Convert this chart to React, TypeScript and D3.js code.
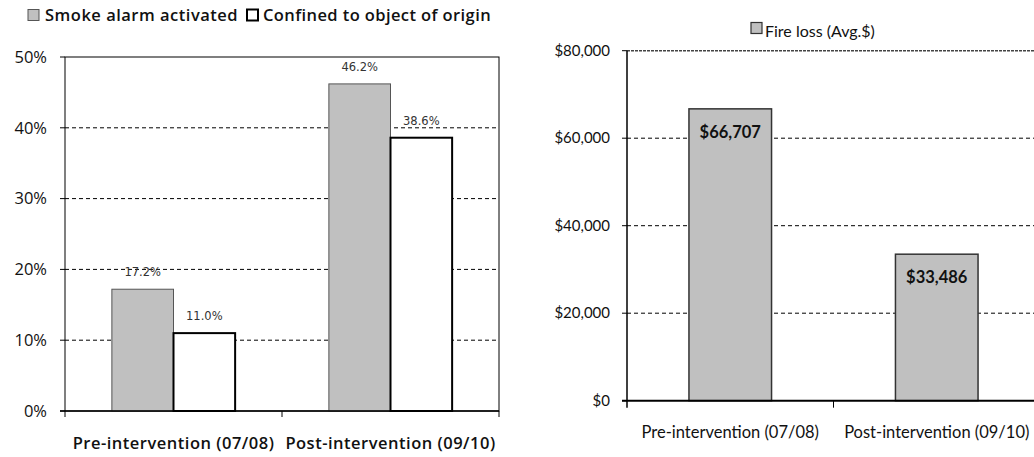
import { useEffect, useRef } from "react";
import * as d3 from "d3";

const periods = ["Pre-intervention (07/08)", "Post-intervention (09/10)"];
const leftSeries = ["Smoke alarm activated", "Confined to object of origin"];
const smokeAlarm = [0.172, 0.462];
const confined = [0.11, 0.386];
const leftTicks = [0, 0.1, 0.2, 0.3, 0.4, 0.5];

const lossSeries = "Fire loss (Avg.$)";
const fireLoss = [66707, 33486];
const rightTicks = [0, 20000, 40000, 60000, 80000];

const wideFont = "'Open Sans', 'DejaVu Sans', sans-serif";
const narrowFont = "Lato, 'Liberation Sans', sans-serif";
const labelFont = "'DejaVu Sans', Verdana, sans-serif";

export default function App() {
  const ref = useRef<SVGSVGElement>(null);

  useEffect(() => {
    const svg = d3.select(ref.current);
    svg.selectAll("*").remove();

    // ---------- left chart ----------
    const L = { left: 65, right: 499, top: 57, bottom: 411 };
    const yL = d3.scaleLinear().domain([0, 0.5]).range([L.bottom, L.top]);
    const xL0 = d3.scaleBand().domain(periods).range([L.left, L.right]).padding(0);
    const bw = xL0.bandwidth();
    const xL1 = d3.scaleBand().domain(leftSeries).range([bw * 0.216, bw * 0.784]).padding(0);

    const left = svg.append("g");

    left.selectAll("line.grid")
      .data(leftTicks.filter(t => t > 0 && t < 0.5))
      .join("line")
      .attr("x1", L.left).attr("x2", L.right)
      .attr("y1", d => yL(d)).attr("y2", d => yL(d))
      .attr("stroke", "#000").attr("stroke-width", 1)
      .attr("stroke-dasharray", "4,3");

    left.append("rect")
      .attr("x", L.left).attr("y", L.top)
      .attr("width", L.right - L.left).attr("height", L.bottom - L.top)
      .attr("fill", "none").attr("stroke", "#000").attr("stroke-width", 1);

    const rows = periods.map((p, i) => ({ p, values: [smokeAlarm[i], confined[i]] }));

    const groups = left.selectAll("g.grp").data(rows).join("g")
      .attr("transform", d => `translate(${xL0(d.p)},0)`);

    groups.selectAll("rect")
      .data(d => d.values.map((v, j) => ({ s: leftSeries[j], v })))
      .join("rect")
      .attr("x", d => xL1(d.s)!)
      .attr("y", d => yL(d.v))
      .attr("width", xL1.bandwidth())
      .attr("height", d => yL(0) - yL(d.v))
      .attr("fill", d => (d.s === leftSeries[0] ? "#c0c0c0" : "#fff"))
      .attr("stroke", d => (d.s === leftSeries[0] ? "#555" : "#000"))
      .attr("stroke-width", d => (d.s === leftSeries[0] ? 1 : 2));

    groups.selectAll("text")
      .data(d => d.values.map((v, j) => ({ s: leftSeries[j], v })))
      .join("text")
      .attr("x", d => xL1(d.s)! + xL1.bandwidth() / 2)
      .attr("y", d => yL(d.v) - 17)
      .attr("dy", "0.35em")
      .attr("text-anchor", "middle")
      .attr("font-family", labelFont)
      .attr("font-size", 11.5)
      .attr("fill", "#333")
      .text(d => `${(d.v * 100).toFixed(1)}%`);

    left.append("line")
      .attr("x1", L.left - 5).attr("x2", L.right)
      .attr("y1", yL(0)).attr("y2", yL(0))
      .attr("stroke", "#000").attr("stroke-width", 1.5);

    left.selectAll("line.ytick").data(leftTicks).join("line")
      .attr("x1", L.left - 5).attr("x2", L.left)
      .attr("y1", d => yL(d)).attr("y2", d => yL(d))
      .attr("stroke", "#000");

    left.selectAll("text.ylab").data(leftTicks).join("text")
      .attr("x", L.left - 18)
      .attr("y", d => yL(d))
      .attr("dy", "0.35em")
      .attr("text-anchor", "end")
      .attr("font-family", wideFont)
      .attr("font-size", 16.5)
      .attr("fill", "#111")
      .text(d => `${Math.round(d * 100)}%`);

    const xEdges = [...periods.map(p => xL0(p)!), L.right];
    left.selectAll("line.xtick").data(xEdges).join("line")
      .attr("x1", d => d).attr("x2", d => d)
      .attr("y1", L.bottom).attr("y2", L.bottom + 6)
      .attr("stroke", "#000");

    left.selectAll("text.xlab").data(periods).join("text")
      .attr("x", d => xL0(d)! + bw / 2)
      .attr("y", 443)
      .attr("dy", "0.35em")
      .attr("text-anchor", "middle")
      .attr("font-family", wideFont)
      .attr("font-weight", 600)
      .attr("font-size", 16.5)
      .attr("letter-spacing", 0.5)
      .attr("fill", "#111")
      .text(d => d);

    // legend (left)
    const lg = left.append("g").attr("transform", "translate(28,15)");
    lg.append("rect").attr("x", 0).attr("y", -5.5).attr("width", 11).attr("height", 11)
      .attr("fill", "#c0c0c0").attr("stroke", "#555");
    lg.append("text").attr("x", 17).attr("y", 0).attr("dy", "0.35em")
      .attr("font-family", wideFont).attr("font-weight", 600).attr("font-size", 16.5)
      .attr("letter-spacing", 0.5)
      .attr("fill", "#111").text(leftSeries[0]);
    lg.append("rect").attr("x", 219).attr("y", -5.5).attr("width", 11).attr("height", 11)
      .attr("fill", "#fff").attr("stroke", "#000").attr("stroke-width", 2);
    lg.append("text").attr("x", 235).attr("y", 0).attr("dy", "0.35em")
      .attr("font-family", wideFont).attr("font-weight", 600).attr("font-size", 16.5)
      .attr("letter-spacing", 0.4)
      .attr("fill", "#111").text(leftSeries[1]);

    // ---------- right chart ----------
    const R = { left: 627, right: 1040, top: 50.7, bottom: 400.7 };
    const yR = d3.scaleLinear().domain([0, 80000]).range([R.bottom, R.top]);
    const xR = d3.scaleBand().domain(periods).range([R.left, R.right]).padding(0);
    const rbw = xR.bandwidth();
    const barW = rbw * 0.4;
    const fmt = d3.format("$,.0f");

    const right = svg.append("g");

    right.selectAll("line.grid").data(rightTicks.filter(t => t > 0)).join("line")
      .attr("x1", R.left).attr("x2", R.right)
      .attr("y1", d => yR(d)).attr("y2", d => yR(d))
      .attr("stroke", d => (d === 80000 ? "#444" : "#000"))
      .attr("stroke-width", d => (d === 80000 ? 1.5 : 1))
      .attr("stroke-dasharray", d => (d === 80000 ? "3,1" : "4,3"));

    right.selectAll("rect.bar").data(periods).join("rect")
      .attr("x", d => xR(d)! + (rbw - barW) / 2)
      .attr("y", (d, i) => yR(fireLoss[i]))
      .attr("width", barW)
      .attr("height", (d, i) => yR(0) - yR(fireLoss[i]))
      .attr("fill", "#c0c0c0").attr("stroke", "#333").attr("stroke-width", 1.5);

    right.selectAll("text.val").data(periods).join("text")
      .attr("x", d => xR(d)! + rbw / 2)
      .attr("y", (d, i) => yR(fireLoss[i]) + 23)
      .attr("dy", "0.35em")
      .attr("text-anchor", "middle")
      .attr("font-family", narrowFont)
      .attr("font-weight", 700)
      .attr("font-size", 16.5)
      .attr("fill", "#111")
      .text((d, i) => fmt(fireLoss[i]));

    right.append("line")
      .attr("x1", R.left).attr("x2", R.left)
      .attr("y1", R.top).attr("y2", R.bottom + 7)
      .attr("stroke", "#000").attr("stroke-width", 1.5);
    right.append("line")
      .attr("x1", R.left - 5).attr("x2", R.right)
      .attr("y1", R.bottom).attr("y2", R.bottom)
      .attr("stroke", "#000").attr("stroke-width", 2);

    right.selectAll("line.ytick").data(rightTicks).join("line")
      .attr("x1", R.left - 5).attr("x2", R.left)
      .attr("y1", d => yR(d)).attr("y2", d => yR(d))
      .attr("stroke", "#000");

    right.selectAll("line.xtick").data(periods.slice(1)).join("line")
      .attr("x1", d => xR(d)!).attr("x2", d => xR(d)!)
      .attr("y1", R.bottom).attr("y2", R.bottom + 7)
      .attr("stroke", "#000");

    right.selectAll("text.ylab").data(rightTicks).join("text")
      .attr("x", R.left - 17)
      .attr("y", d => yR(d))
      .attr("dy", "0.35em")
      .attr("text-anchor", "end")
      .attr("font-family", narrowFont)
      .attr("font-size", 15)
      .attr("fill", "#111")
      .text(d => fmt(d));

    right.selectAll("text.xlab").data(periods).join("text")
      .attr("x", d => xR(d)! + rbw / 2)
      .attr("y", 432)
      .attr("dy", "0.35em")
      .attr("text-anchor", "middle")
      .attr("font-family", narrowFont)
      .attr("font-size", 16.5)
      .attr("fill", "#111")
      .text(d => d);

    const rg = right.append("g").attr("transform", "translate(751,28)");
    rg.append("rect").attr("x", 0).attr("y", -5.5).attr("width", 11).attr("height", 11)
      .attr("fill", "#c0c0c0").attr("stroke", "#333").attr("stroke-width", 1.2);
    rg.append("text").attr("x", 14).attr("y", 3).attr("dy", "0.35em")
      .attr("font-family", narrowFont).attr("font-size", 16)
      .attr("fill", "#111").text(lossSeries);
  }, []);

  return (
    <svg
      ref={ref}
      width={1034}
      height={457}
      style={{ position: "absolute", left: 0, top: 0, background: "#fff" }}
    />
  );
}
